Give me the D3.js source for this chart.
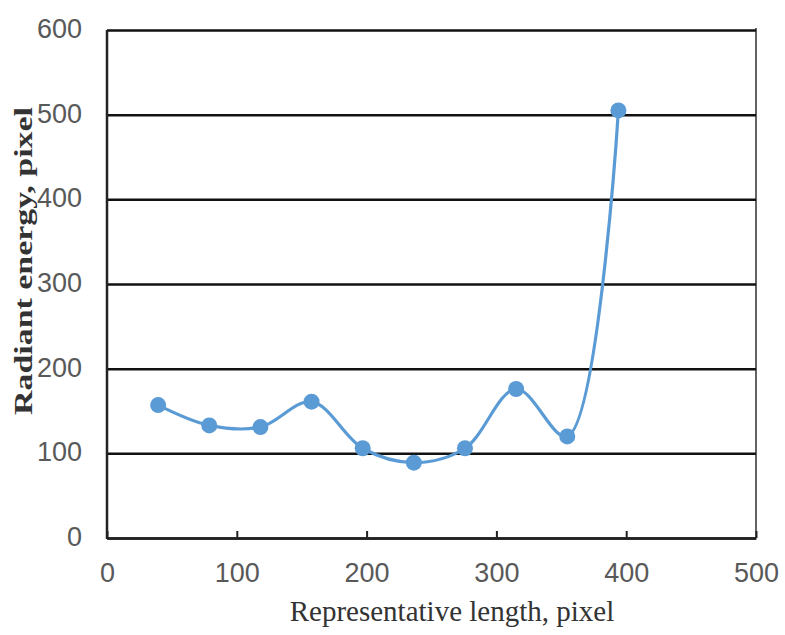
<!DOCTYPE html>
<html>
<head>
<meta charset="utf-8">
<script src="https://cdn.jsdelivr.net/npm/d3@7"></script>
<style>
  html, body { margin: 0; padding: 0; background: #fff; }
  svg { display: block; }
</style>
</head>
<body>
<svg id="chart" width="785" height="635"></svg>
<script>
// Measured samples: representative length vs radiant energy (both in pixels)
const lengths = [39.4, 78.8, 118.2, 157.6, 197, 236.4, 275.8, 315.2, 354.6, 394];
const energies = [157, 133, 131, 161, 106, 89, 106, 176, 120, 505];
const xTicks = [0, 100, 200, 300, 400, 500];
const yTicks = [0, 100, 200, 300, 400, 500, 600];

const xTitle = "Representative length, pixel";
const yTitle = "Radiant energy, pixel";

const W = 785, H = 635;
const margin = { left: 107, top: 30, right: 29, bottom: 97 };
const plotW = W - margin.left - margin.right;
const plotH = H - margin.top - margin.bottom;

const svg = d3.select("#chart");
const g = svg.append("g").attr("transform", `translate(${margin.left},${margin.top})`);

const x = d3.scaleLinear().domain([0, 500]).range([0, plotW]);
const y = d3.scaleLinear().domain([0, 600]).range([plotH, 0]);

// Horizontal gridlines with value labels on the left
const yAxis = d3.axisLeft(y)
  .tickValues(yTicks)
  .tickSize(-plotW)
  .tickPadding(25)
  .tickFormat(d3.format("d"));
const yg = g.append("g").call(yAxis);
yg.select(".domain").remove();
yg.selectAll(".tick line")
  .attr("stroke", "#111")
  .attr("stroke-width", 2.5);
yg.selectAll(".tick text")
  .attr("font-family", "'Liberation Sans', Arial, sans-serif")
  .attr("font-size", 27)
  .attr("fill", "#595959")
  .attr("dy", "0.28em");

// Right border of the plot area
g.append("line")
  .attr("x1", plotW).attr("x2", plotW)
  .attr("y1", -2).attr("y2", plotH)
  .attr("stroke", "#111")
  .attr("stroke-width", 1.3);

// Bottom axis with short inward ticks
const xAxis = d3.axisBottom(x)
  .tickValues(xTicks)
  .tickSizeInner(-7)
  .tickSizeOuter(0)
  .tickPadding(25)
  .tickFormat(d3.format("d"));
const xg = g.append("g").attr("transform", `translate(0,${plotH})`).call(xAxis);
xg.select(".domain").attr("stroke", "#222").attr("stroke-width", 2.5);
xg.selectAll(".tick line").attr("stroke", "#222").attr("stroke-width", 2);
xg.selectAll(".tick text")
  .attr("font-family", "'Liberation Sans', Arial, sans-serif")
  .attr("font-size", 27)
  .attr("fill", "#595959")
  .attr("dy", "0.7em");

// Left axis line
g.append("line")
  .attr("x1", 0).attr("x2", 0)
  .attr("y1", 0).attr("y2", plotH + 1)
  .attr("stroke", "#222")
  .attr("stroke-width", 2.5);

// Smoothed series line
const line = d3.line()
  .x((d, i) => x(lengths[i]))
  .y(d => y(d))
  .curve(d3.curveCatmullRom.alpha(0.5));

g.append("path")
  .datum(energies)
  .attr("fill", "none")
  .attr("stroke", "#5B9BD5")
  .attr("stroke-width", 3.2)
  .attr("d", line);

// Markers
g.selectAll("circle.pt")
  .data(energies)
  .join("circle")
  .attr("class", "pt")
  .attr("cx", (d, i) => x(lengths[i]))
  .attr("cy", d => y(d))
  .attr("r", 8)
  .attr("fill", "#5B9BD5");

// Axis titles
svg.append("text")
  .attr("x", 452)
  .attr("y", 621)
  .attr("text-anchor", "middle")
  .attr("font-family", "'Liberation Serif', 'Times New Roman', serif")
  .attr("font-size", 29)
  .attr("fill", "#333")
  .text(xTitle);

svg.append("text")
  .attr("transform", `translate(32,261) rotate(-90)`)
  .attr("text-anchor", "middle")
  .attr("font-family", "'Liberation Serif', 'Times New Roman', serif")
  .attr("font-weight", "bold")
  .attr("font-size", 26)
  .attr("fill", "#333")
  .attr("textLength", 308)
  .attr("lengthAdjust", "spacingAndGlyphs")
  .text(yTitle);
</script>
</body>
</html>
